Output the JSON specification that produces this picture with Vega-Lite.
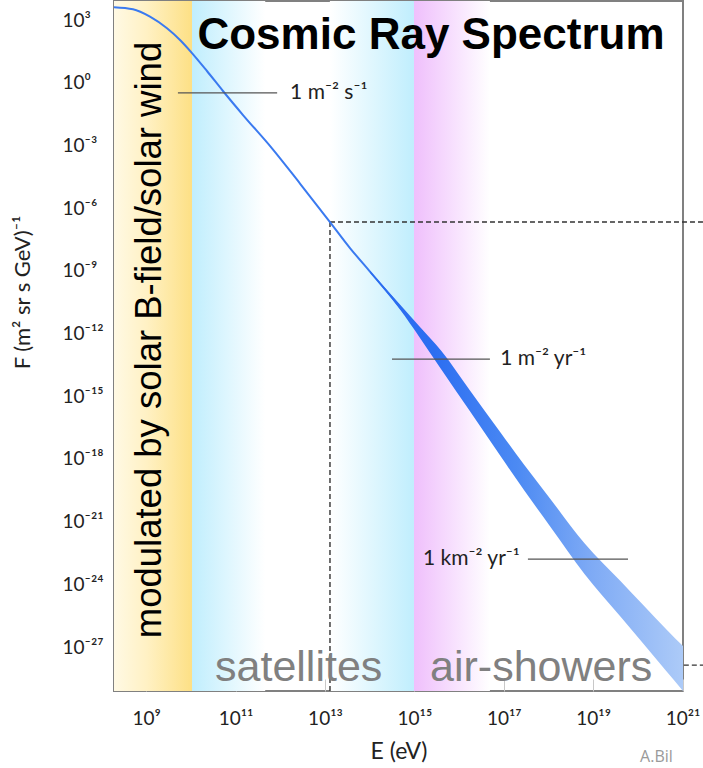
{
  "$schema": "https://vega.github.io/schema/vega-lite/v6.json",
  "width": 569,
  "height": 690,
  "autosize": {"type": "none"},
  "padding": {"left": 114, "top": 1, "right": 20, "bottom": 77},
  "background": "white",
  "config": {
    "view": {"stroke": "#808080", "strokeWidth": 2},
    "font": "Lato"
  },
  "datasets": {
    "bg": [
      {"name": "yellow", "E": 1e8, "E2": 1.059e10, "F": 1e-31, "F2": 1e5},
      {"name": "cyanL", "E": 1.059e10, "E2": 4.6e11, "F": 1e-31, "F2": 1e5},
      {"name": "cyanR", "E": 1.288e13, "E2": 9.8e14, "F": 1e-31, "F2": 1e5},
      {"name": "magenta", "E": 9.8e14, "E2": 4.9e16, "F": 1e-31, "F2": 1e5}
    ],
    "spectrum": [
      {"E": 1.905e8, "F": 4074},
      {"E": 5.07e8, "F": 3258},
      {"E": 1.216e9, "F": 1445},
      {"E": 2.924e9, "F": 401.8},
      {"E": 5.715e9, "F": 110.7},
      {"E": 1.059e10, "F": 26.3},
      {"E": 2.29e10, "F": 3.64},
      {"E": 5.22e10, "F": 0.402},
      {"E": 1.466e11, "F": 0.0285},
      {"E": 6.53e11, "F": 7.28e-4},
      {"E": 2.76e12, "F": 1.507e-5},
      {"E": 1.294e13, "F": 2.168e-7},
      {"E": 3.63e13, "F": 1.236e-8},
      {"E": 1.016e14, "F": 9.17e-10},
      {"E": 4.764e14, "F": 1.858e-11},
      {"E": 1.336e15, "F": 1.13e-12}
    ],
    "band": [
      {"E": 1.016e14, "F": 8.22e-10, "F2": 1.023e-9},
      {"E": 4.764e14, "F": 1.413e-11, "F2": 2.443e-11},
      {"E": 1.336e15, "F": 6.2e-13, "F2": 2.05e-12},
      {"E": 3.94e15, "F": 2.0e-14, "F2": 1.55e-13},
      {"E": 1.754e16, "F": 1.9e-16, "F2": 1.9e-15},
      {"E": 8.22e16, "F": 1.5e-18, "F2": 2.0e-17},
      {"E": 2.83e17, "F": 3.26e-20, "F2": 5.41e-19},
      {"E": 1.081e18, "F": 6.11e-22, "F2": 1.291e-20},
      {"E": 6.4e18, "F": 3.148e-24, "F2": 9.27e-23},
      {"E": 3.98e19, "F": 3.055e-26, "F2": 1.524e-24},
      {"E": 4.26e20, "F": 7.45e-29, "F2": 7.44e-27},
      {"E": 1.466e21, "F": 3.22e-30, "F2": 5.18e-28}
    ],
    "dashes": [
      {"E": 1.294e13, "E2": 2.9e21, "F": 2.168e-7, "F2": 2.168e-7},
      {"E": 1.294e13, "E2": 1.294e13, "F": 2.168e-7, "F2": 7.94e-30},
      {"E": 4.68e20, "E2": 2.9e21, "F": 1.38e-28, "F2": 1.38e-28}
    ],
    "refs": [
      {"E": 5.13e9, "E2": 8.51e11, "F": 0.3236, "F2": 0.3236},
      {"E": 3.16e14, "E2": 4.9e16, "F": 6.03e-14, "F2": 6.03e-14},
      {"E": 3.47e17, "E2": 6.03e19, "F": 1.62e-23, "F2": 1.62e-23}
    ],
    "labels": [
      {"kind": "title", "label": "Cosmic Ray Spectrum", "E": 2.355e15, "F": 40},
      {"kind": "rot", "label": "modulated by solar B-field/solar wind", "E": 2.13e9, "F": 4.9e-13},
      {"kind": "gray", "label": "satellites", "E": 3.47e10, "F": 2.3e-29},
      {"kind": "gray", "label": "air-showers", "E": 2.24e15, "F": 2.3e-29},
      {"kind": "refL", "label": "1  m⁻² s⁻¹", "E": 1.66e12, "F": 0.3236},
      {"kind": "refL", "label": "1  m⁻² yr⁻¹", "E": 8.3e16, "F": 6.03e-14},
      {"kind": "refR", "label": "1  km⁻² yr⁻¹", "E": 2.29e17, "F": 1.62e-23},
      {"kind": "credit", "label": "A.Bil", "E": 1.12e20, "F": 5.5e-33}
    ]
  },
  "encoding": {
    "x": {
      "field": "E",
      "type": "quantitative",
      "scale": {"type": "log", "domain": [1.905e8, 1.023e21], "nice": false},
      "axis": {
        "values": [1e9, 1e11, 1e13, 1e15, 1e17, 1e19, 1e21],
        "labelExpr": "'10' + replace(replace(replace(replace(replace(replace(replace(replace(replace(replace(replace('' + round(log(datum.value)/LN10), regexp('-','g'), '⁻'), regexp('0','g'), '⁰'), regexp('1','g'), '¹'), regexp('2','g'), '²'), regexp('3','g'), '³'), regexp('4','g'), '⁴'), regexp('5','g'), '⁵'), regexp('6','g'), '⁶'), regexp('7','g'), '⁷'), regexp('8','g'), '⁸'), regexp('9','g'), '⁹')",
        "domain": false,
        "grid": false,
        "tickSize": -12,
        "tickColor": "#c8c8c8",
        "tickWidth": 1,
        "labelPadding": 30,
        "labelFont": "Lato",
        "labelFontSize": 19,
        "labelColor": "#222222",
        "labelFlush": false,
        "title": "E (eV)",
        "titleFont": "Lato",
        "titleFontSize": 23,
        "titleFontWeight": "normal",
        "titleColor": "#222222",
        "titleY": 60,
        "titleBaseline": "middle"
      }
    },
    "y": {
      "field": "F",
      "type": "quantitative",
      "scale": {"type": "log", "domain": [7.94e-30, 8128], "nice": false},
      "axis": {
        "values": [1e3, 1, 1e-3, 1e-6, 1e-9, 1e-12, 1e-15, 1e-18, 1e-21, 1e-24, 1e-27],
        "labelExpr": "'10' + replace(replace(replace(replace(replace(replace(replace(replace(replace(replace(replace('' + round(log(datum.value)/LN10), regexp('-','g'), '⁻'), regexp('0','g'), '⁰'), regexp('1','g'), '¹'), regexp('2','g'), '²'), regexp('3','g'), '³'), regexp('4','g'), '⁴'), regexp('5','g'), '⁵'), regexp('6','g'), '⁶'), regexp('7','g'), '⁷'), regexp('8','g'), '⁸'), regexp('9','g'), '⁹')",
        "domain": false,
        "grid": false,
        "tickSize": -10,
        "tickColor": "#c8c8c8",
        "tickWidth": 1,
        "labelPadding": 62,
        "labelAlign": "left",
        "labelFont": "Lato",
        "labelFontSize": 19,
        "labelColor": "#222222",
        "labelFlush": false,
        "title": "F (m² sr s GeV)⁻¹",
        "titleFont": "Lato",
        "titleFontSize": 22,
        "titleFontWeight": "normal",
        "titleColor": "#222222",
        "titleX": -92,
        "titleY": 291,
        "titleAngle": 270,
        "titleAlign": "center",
        "titleBaseline": "middle"
      }
    }
  },
  "layer": [
    {
      "data": {"name": "bg"},
      "transform": [{"filter": "datum.name === 'yellow'"}],
      "mark": {"type": "rect", "clip": true, "color": {"gradient": "linear", "x1": 0, "x2": 1, "y1": 0, "y2": 0, "stops": [{"offset": 0, "color": "#fffcf0"}, {"offset": 0.5, "color": "#fff1c4"}, {"offset": 1, "color": "#fde085"}]}},
      "encoding": {"x2": {"field": "E2"}, "y2": {"field": "F2"}}
    },
    {
      "data": {"name": "bg"},
      "transform": [{"filter": "datum.name === 'cyanL'"}],
      "mark": {"type": "rect", "clip": true, "color": {"gradient": "linear", "x1": 0, "x2": 1, "y1": 0, "y2": 0, "stops": [{"offset": 0, "color": "#c0eefd"}, {"offset": 1, "color": "#ffffff"}]}},
      "encoding": {"x2": {"field": "E2"}, "y2": {"field": "F2"}}
    },
    {
      "data": {"name": "bg"},
      "transform": [{"filter": "datum.name === 'cyanR'"}],
      "mark": {"type": "rect", "clip": true, "color": {"gradient": "linear", "x1": 0, "x2": 1, "y1": 0, "y2": 0, "stops": [{"offset": 0, "color": "#ffffff"}, {"offset": 1, "color": "#c0eefd"}]}},
      "encoding": {"x2": {"field": "E2"}, "y2": {"field": "F2"}}
    },
    {
      "data": {"name": "bg"},
      "transform": [{"filter": "datum.name === 'magenta'"}],
      "mark": {"type": "rect", "clip": true, "color": {"gradient": "linear", "x1": 0, "x2": 1, "y1": 0, "y2": 0, "stops": [{"offset": 0, "color": "#efbffc"}, {"offset": 1, "color": "#ffffff"}]}},
      "encoding": {"x2": {"field": "E2"}, "y2": {"field": "F2"}}
    },
    {
      "data": {"name": "dashes"},
      "mark": {"type": "rule", "color": "#333333", "strokeWidth": 1.4, "strokeDash": [5, 3]},
      "encoding": {"x2": {"field": "E2"}, "y2": {"field": "F2"}}
    },
    {
      "data": {"name": "spectrum"},
      "mark": {"type": "line", "clip": true, "color": "#3a7af0", "strokeWidth": 2, "interpolate": "monotone"},
      "encoding": {}
    },
    {
      "data": {"name": "band"},
      "mark": {"type": "area", "clip": true, "interpolate": "monotone", "color": {"gradient": "linear", "x1": 0, "x2": 1, "y1": 0, "y2": 0, "stops": [{"offset": 0, "color": "#2a6cf0"}, {"offset": 0.2, "color": "#2c6ef1"}, {"offset": 0.46, "color": "#4c8af3"}, {"offset": 0.69, "color": "#7eaaf5"}, {"offset": 1, "color": "#b0cdf8"}]}},
      "encoding": {"y2": {"field": "F2"}}
    },
    {
      "data": {"name": "refs"},
      "mark": {"type": "rule", "color": "#555555", "strokeWidth": 1.2},
      "encoding": {"x2": {"field": "E2"}, "y2": {"field": "F2"}}
    },
    {
      "data": {"name": "labels"},
      "transform": [{"filter": "datum.kind === 'title'"}],
      "mark": {"type": "text", "font": "Liberation Sans", "fontWeight": "bold", "fontSize": 44, "color": "#000000", "align": "center", "baseline": "alphabetic"},
      "encoding": {"text": {"field": "label"}}
    },
    {
      "data": {"name": "labels"},
      "transform": [{"filter": "datum.kind === 'rot'"}],
      "mark": {"type": "text", "font": "Liberation Sans", "fontSize": 36.5, "color": "#000000", "align": "center", "baseline": "alphabetic", "angle": 270},
      "encoding": {"text": {"field": "label"}}
    },
    {
      "data": {"name": "labels"},
      "transform": [{"filter": "datum.kind === 'gray'"}],
      "mark": {"type": "text", "font": "Liberation Sans", "fontSize": 43, "color": "#808080", "align": "left", "baseline": "alphabetic"},
      "encoding": {"text": {"field": "label"}}
    },
    {
      "data": {"name": "labels"},
      "transform": [{"filter": "datum.kind === 'refL'"}],
      "mark": {"type": "text", "font": "Lato", "fontSize": 21, "color": "#222222", "align": "left", "baseline": "middle"},
      "encoding": {"text": {"field": "label"}}
    },
    {
      "data": {"name": "labels"},
      "transform": [{"filter": "datum.kind === 'refR'"}],
      "mark": {"type": "text", "font": "Lato", "fontSize": 21, "color": "#222222", "align": "right", "baseline": "middle"},
      "encoding": {"text": {"field": "label"}}
    },
    {
      "data": {"name": "labels"},
      "transform": [{"filter": "datum.kind === 'credit'"}],
      "mark": {"type": "text", "font": "Open Sans", "fontSize": 16, "color": "#9a9a9a", "align": "left", "baseline": "middle"},
      "encoding": {"text": {"field": "label"}}
    }
  ]
}
